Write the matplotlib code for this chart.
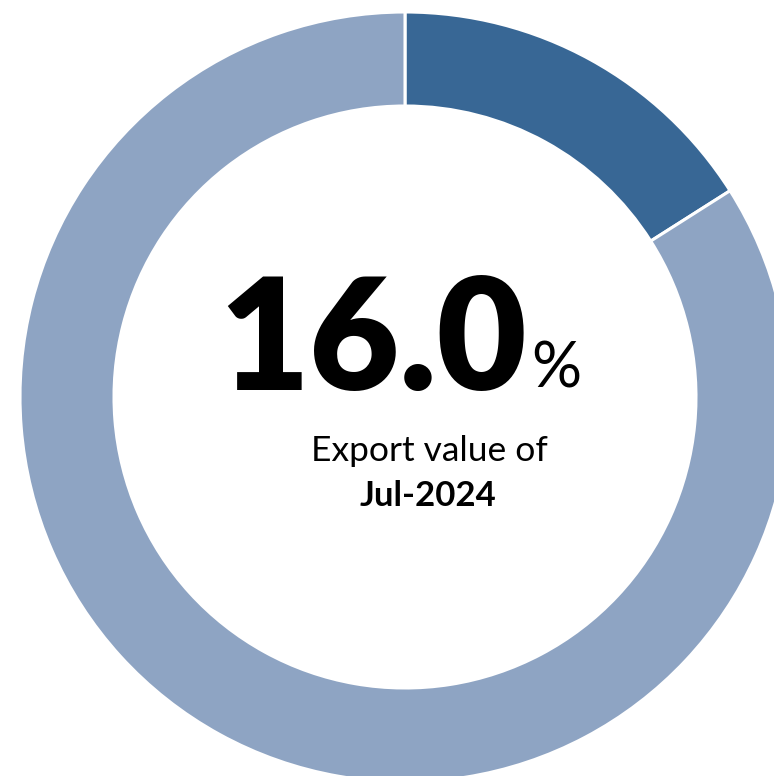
import matplotlib
matplotlib.use("Agg")
import matplotlib.pyplot as plt

# share of export value
labels = ['Jul-2024', 'Other']
shares = [16.0, 84.0]
colors = ['#386795', '#8EA4C3']
big_value = '16.0'
caption = 'Export value of'
period = 'Jul-2024'

W, H = 774, 776
fig = plt.figure(figsize=(W / 100, H / 100), dpi=100)
ax = fig.add_axes([0, 0, 1, 1])

cx, cy = 405, H - 397
ax.pie(shares, colors=colors, startangle=90, counterclock=False,
       center=(cx, cy), radius=385, frame=True,
       wedgeprops=dict(width=94, edgecolor='white', linewidth=2.2))
ax.set_xlim(0, W)
ax.set_ylim(0, H)
ax.set_aspect('equal')
ax.axis('off')

ax.text(527, H - 390, big_value, ha='right', va='baseline',
        fontsize=112, fontweight='heavy', family='Lato', color='black')
ax.text(531, H - 387, '%', ha='left', va='baseline',
        fontsize=45, family='Lato', color='black')
ax.text(429, H - 461, caption, ha='center', va='baseline',
        fontsize=25.5, family='Lato', color='black')
ax.text(428, H - 506, period, ha='center', va='baseline',
        fontsize=25, fontweight='bold', family='Lato', color='black')

fig.savefig('out.png', dpi=100)
